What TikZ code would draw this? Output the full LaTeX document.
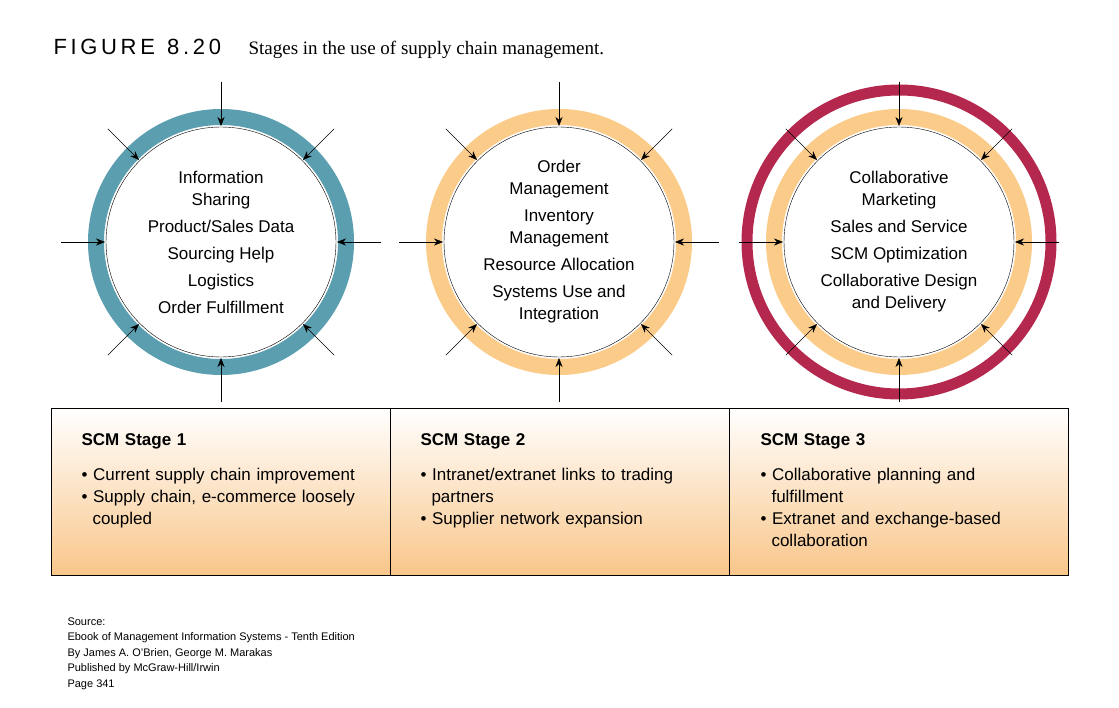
\documentclass[tikz,border=0pt]{standalone}
\usepackage{fontspec}
\setmainfont{Liberation Sans}
\newfontfamily\titlefont{Liberation Serif}
\usetikzlibrary{arrows.meta,calc}
\definecolor{ringteal}{HTML}{5A9EAF}
\definecolor{ringorange}{HTML}{FBCB8A}
\definecolor{ringred}{HTML}{B5284E}
\definecolor{boxorange}{HTML}{F9C68A}
\tikzset{
  ringtext/.style={align=center, font=\fontsize{17}{22}\selectfont},
  stagebox/.style={draw=black, top color=white, bottom color=boxorange, minimum width=339, minimum height=167, inner sep=0},
  stagetext/.style={anchor=north west, align=left, text width=300, font=\fontsize{17}{22}\selectfont},
  feed/.style={-{Stealth[length=9,width=7]}, thin}
}
\begin{document}
\begin{tikzpicture}[x=1pt,y=-1pt]
\useasboundingbox (0,0) rectangle (1119,708);
% title
\node[anchor=base west, font=\fontsize{22}{26}\selectfont] (fig) at (50,55) {F\,I\,G\,U\,R\,E\ \ 8\,.\,2\,0};
\node[anchor=base west, font=\titlefont\fontsize{19}{22}\selectfont] (caption) at (245,55) {Stages in the use of supply chain management.};
% centres
\coordinate (c1) at (221,242);
\coordinate (c2) at (559,242);
\coordinate (c3) at (899,242);
% rings
\draw[line width=16, ringteal] (c1) circle (125);
\draw[line width=16, ringorange] (c2) circle (125);
\draw[line width=11, ringred] (c3) circle (152);
\draw[line width=16, ringorange] (c3) circle (125);
\foreach \c in {c1,c2,c3}{
  \draw[fill=white, thin] (\c) circle (115);
  \foreach \a in {0,45,...,315}
    \draw[feed] ($(\c)+(\a:160)$) -- ($(\c)+(\a:116)$);
}
% circle texts
\node[ringtext] (t1) at (221,242) {Information\\Sharing\\[5pt]Product/Sales Data\\[5pt]Sourcing Help\\[5pt]Logistics\\[5pt]Order Fulfillment};
\node[ringtext] (t2) at (559,242) {Order\\Management\\[5pt]Inventory\\Management\\[5pt]Resource Allocation\\[5pt]Systems Use and\\Integration};
\node[ringtext] (t3) at (899,242) {Collaborative\\Marketing\\[5pt]Sales and Service\\[5pt]SCM Optimization\\[5pt]Collaborative Design\\and Delivery};
% stage boxes
\node[stagebox, anchor=north west] (s1) at (51,408) {};
\node[stagebox, anchor=north west] (s2) at (390,408) {};
\node[stagebox, anchor=north west] (s3) at (729,408) {};
\node[stagetext] (s1t) at (78,430) {\textbf{SCM Stage 1}\\[13pt]• Current supply chain improvement\\• Supply chain, e-commerce loosely\\\hspace*{11pt}coupled};
\node[stagetext] (s2t) at (417,430) {\textbf{SCM Stage 2}\\[13pt]• Intranet/extranet links to trading\\\hspace*{11pt}partners\\• Supplier network expansion};
\node[stagetext] (s3t) at (757,430) {\textbf{SCM Stage 3}\\[13pt]• Collaborative planning and\\\hspace*{11pt}fulfillment\\• Extranet and exchange-based\\\hspace*{11pt}collaboration};
% source
\node[anchor=north west, align=left, font=\fontsize{11}{15.5}\selectfont] (src) at (64,614) {Source:\\Ebook of Management Information Systems - Tenth Edition\\By James A. O'Brien, George M. Marakas\\Published by McGraw-Hill/Irwin\\Page 341};
\end{tikzpicture}
\end{document}
